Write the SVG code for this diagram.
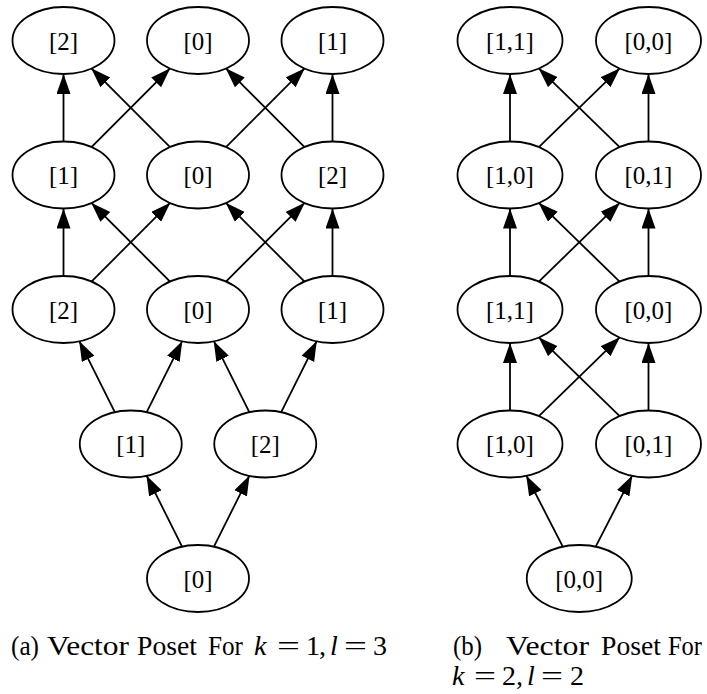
<svg xmlns="http://www.w3.org/2000/svg" width="707" height="694" viewBox="0 0 707 694">
  <style>
    .node ellipse { fill: #ffffff; stroke: #000000; stroke-width: 1.8; }
    .node text { font-family: "Liberation Serif", "Times New Roman", serif; font-size: 25px; text-anchor: middle; fill: #000000; }
    .edges line { stroke: #000000; stroke-width: 1.8; marker-end: url(#arrow); }
    .cap { font-family: "Liberation Serif", "Times New Roman", serif; font-size: 28px; fill: #000000; }
    .it { font-style: italic; }
  </style>
  <defs>
    <marker id="arrow" markerUnits="userSpaceOnUse" markerWidth="21" markerHeight="15" refX="20" refY="7" orient="auto">
      <path d="M0,0 L20,7 L0,14 z" fill="#000000"/>
    </marker>
  </defs>
  <rect width="707" height="694" fill="#ffffff"/>

  <!-- (a) poset, k=1, l=3 : connectors -->
  <g id="edges-a" class="edges">
    <!-- row 2 to row 1 -->
    <line x1="63.5" y1="141.5" x2="63.5" y2="74"/>
    <line x1="91.2" y1="147.3" x2="170.3" y2="68.2"/>
    <line x1="170.3" y1="147.3" x2="91.2" y2="68.2"/>
    <line x1="225.7" y1="147.3" x2="304.8" y2="68.2"/>
    <line x1="304.8" y1="147.3" x2="225.7" y2="68.2"/>
    <line x1="332.5" y1="141.5" x2="332.5" y2="74"/>
    <!-- row 3 to row 2 -->
    <line x1="63.5" y1="276" x2="63.5" y2="208.5"/>
    <line x1="91.2" y1="281.8" x2="170.3" y2="202.7"/>
    <line x1="170.3" y1="281.8" x2="91.2" y2="202.7"/>
    <line x1="225.7" y1="281.8" x2="304.8" y2="202.7"/>
    <line x1="304.8" y1="281.8" x2="225.7" y2="202.7"/>
    <line x1="332.5" y1="276" x2="332.5" y2="208.5"/>
    <!-- row 4 to row 3 -->
    <line x1="115.05" y1="412.6" x2="79.2" y2="340.9"/>
    <line x1="146.45" y1="412.6" x2="182.3" y2="340.9"/>
    <line x1="249.55" y1="412.6" x2="213.7" y2="340.9"/>
    <line x1="280.95" y1="412.6" x2="316.8" y2="340.9"/>
    <!-- row 5 to row 4 -->
    <line x1="182.3" y1="547.1" x2="146.45" y2="475.4"/>
    <line x1="213.7" y1="547.1" x2="249.55" y2="475.4"/>
  </g>

  <!-- (a) poset : nodes -->
  <g id="a-r1-2" class="node"><ellipse cx="63.5" cy="40.5" rx="51" ry="33.5"/><text x="63.5" y="49.5">[2]</text></g>
  <g id="a-r1-0" class="node"><ellipse cx="198" cy="40.5" rx="51" ry="33.5"/><text x="198" y="49.5">[0]</text></g>
  <g id="a-r1-1" class="node"><ellipse cx="332.5" cy="40.5" rx="51" ry="33.5"/><text x="332.5" y="49.5">[1]</text></g>

  <g id="a-r2-1" class="node"><ellipse cx="63.5" cy="175" rx="51" ry="33.5"/><text x="63.5" y="184">[1]</text></g>
  <g id="a-r2-0" class="node"><ellipse cx="198" cy="175" rx="51" ry="33.5"/><text x="198" y="184">[0]</text></g>
  <g id="a-r2-2" class="node"><ellipse cx="332.5" cy="175" rx="51" ry="33.5"/><text x="332.5" y="184">[2]</text></g>

  <g id="a-r3-2" class="node"><ellipse cx="63.5" cy="309.5" rx="51" ry="33.5"/><text x="63.5" y="318.5">[2]</text></g>
  <g id="a-r3-0" class="node"><ellipse cx="198" cy="309.5" rx="51" ry="33.5"/><text x="198" y="318.5">[0]</text></g>
  <g id="a-r3-1" class="node"><ellipse cx="332.5" cy="309.5" rx="51" ry="33.5"/><text x="332.5" y="318.5">[1]</text></g>

  <g id="a-r4-1" class="node"><ellipse cx="130.75" cy="444" rx="51" ry="33.5"/><text x="130.75" y="453">[1]</text></g>
  <g id="a-r4-2" class="node"><ellipse cx="265.25" cy="444" rx="51" ry="33.5"/><text x="265.25" y="453">[2]</text></g>

  <g id="a-r5-0" class="node"><ellipse cx="198" cy="578.5" rx="51" ry="33.5"/><text x="198" y="587.5">[0]</text></g>

  <!-- (b) poset, k=2, l=2 : connectors -->
  <g id="edges-b" class="edges">
    <!-- row 2 to row 1 -->
    <line x1="510" y1="141.5" x2="510" y2="74"/>
    <line x1="538.6" y1="147.3" x2="619.9" y2="68.2"/>
    <line x1="619.9" y1="147.3" x2="538.6" y2="68.2"/>
    <line x1="648.5" y1="141.5" x2="648.5" y2="74"/>
    <!-- row 3 to row 2 -->
    <line x1="510" y1="276" x2="510" y2="208.5"/>
    <line x1="538.6" y1="281.8" x2="619.9" y2="202.7"/>
    <line x1="619.9" y1="281.8" x2="538.6" y2="202.7"/>
    <line x1="648.5" y1="276" x2="648.5" y2="208.5"/>
    <!-- row 4 to row 3 -->
    <line x1="510" y1="410.5" x2="510" y2="343"/>
    <line x1="538.6" y1="416.3" x2="619.9" y2="337.2"/>
    <line x1="619.9" y1="416.3" x2="538.6" y2="337.2"/>
    <line x1="648.5" y1="410.5" x2="648.5" y2="343"/>
    <!-- row 5 to row 4 -->
    <line x1="563.05" y1="547.1" x2="526.2" y2="475.4"/>
    <line x1="595.45" y1="547.1" x2="632.3" y2="475.4"/>
  </g>

  <!-- (b) poset : nodes -->
  <g id="b-r1-11" class="node"><ellipse cx="510" cy="40.5" rx="52.5" ry="33.5"/><text x="510" y="49.5">[1,1]</text></g>
  <g id="b-r1-00" class="node"><ellipse cx="648.5" cy="40.5" rx="52.5" ry="33.5"/><text x="648.5" y="49.5">[0,0]</text></g>

  <g id="b-r2-10" class="node"><ellipse cx="510" cy="175" rx="52.5" ry="33.5"/><text x="510" y="184">[1,0]</text></g>
  <g id="b-r2-01" class="node"><ellipse cx="648.5" cy="175" rx="52.5" ry="33.5"/><text x="648.5" y="184">[0,1]</text></g>

  <g id="b-r3-11" class="node"><ellipse cx="510" cy="309.5" rx="52.5" ry="33.5"/><text x="510" y="318.5">[1,1]</text></g>
  <g id="b-r3-00" class="node"><ellipse cx="648.5" cy="309.5" rx="52.5" ry="33.5"/><text x="648.5" y="318.5">[0,0]</text></g>

  <g id="b-r4-10" class="node"><ellipse cx="510" cy="444" rx="52.5" ry="33.5"/><text x="510" y="453">[1,0]</text></g>
  <g id="b-r4-01" class="node"><ellipse cx="648.5" cy="444" rx="52.5" ry="33.5"/><text x="648.5" y="453">[0,1]</text></g>

  <g id="b-r5-00" class="node"><ellipse cx="579.25" cy="578.5" rx="52.5" ry="33.5"/><text x="579.25" y="587.5">[0,0]</text></g>

  <!-- captions -->
  <g id="caption-a" class="cap">
    <text x="11" y="655" textLength="28" lengthAdjust="spacingAndGlyphs">(a)</text>
    <text x="47" y="655" textLength="82" lengthAdjust="spacingAndGlyphs">Vector</text>
    <text x="137" y="655" textLength="60" lengthAdjust="spacingAndGlyphs">Poset</text>
    <text x="208" y="655" textLength="35" lengthAdjust="spacingAndGlyphs">For</text>
    <text x="254" y="655" class="it">k</text>
    <text x="277" y="655" textLength="23" lengthAdjust="spacingAndGlyphs">=</text>
    <text x="306" y="655">1</text>
    <text x="319" y="655">,</text>
    <text x="330" y="655" class="it">l</text>
    <text x="344" y="655" textLength="23" lengthAdjust="spacingAndGlyphs">=</text>
    <text x="373" y="655">3</text>
  </g>
  <g id="caption-b" class="cap">
    <text x="453" y="655" textLength="29" lengthAdjust="spacingAndGlyphs">(b)</text>
    <text x="506" y="655" textLength="83" lengthAdjust="spacingAndGlyphs">Vector</text>
    <text x="601" y="655" textLength="60" lengthAdjust="spacingAndGlyphs">Poset</text>
    <text x="668" y="655" textLength="34" lengthAdjust="spacingAndGlyphs">For</text>
    <text x="452" y="685" class="it">k</text>
    <text x="474" y="685" textLength="22" lengthAdjust="spacingAndGlyphs">=</text>
    <text x="502" y="685">2</text>
    <text x="516" y="685">,</text>
    <text x="527" y="685" class="it">l</text>
    <text x="541" y="685" textLength="22" lengthAdjust="spacingAndGlyphs">=</text>
    <text x="570" y="685">2</text>
  </g>
</svg>
